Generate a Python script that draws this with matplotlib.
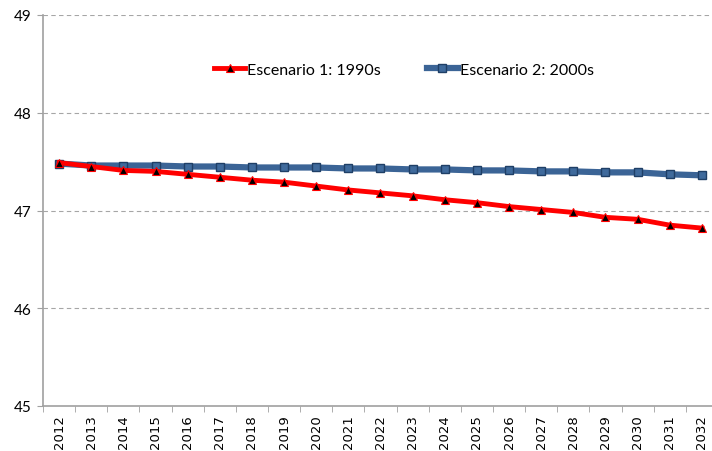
import numpy as np
import matplotlib.pyplot as plt
from matplotlib.ticker import FixedLocator

years = [str(y) for y in range(2012, 2033)]
esc1 = [47.49, 47.45, 47.41, 47.40, 47.37, 47.34, 47.31, 47.29, 47.25, 47.21, 47.18,
        47.15, 47.11, 47.08, 47.04, 47.01, 46.98, 46.93, 46.91, 46.85, 46.82]
esc2 = [47.48, 47.46, 47.46, 47.46, 47.45, 47.45, 47.44, 47.44, 47.44, 47.43, 47.43,
        47.42, 47.42, 47.41, 47.41, 47.40, 47.40, 47.39, 47.39, 47.37, 47.36]
labels = ['Escenario 1: 1990s', 'Escenario 2: 2000s']
yticks = [45, 46, 47, 48, 49]

fig = plt.figure(figsize=(7.12, 4.52), dpi=100)
# axes runs a little past the right edge, like the cropped original
ax = fig.add_axes([43/712, 1-407/452, 675/712, 391/452])

x = np.arange(len(years))
ax.plot(x, esc2, color='#3B6496', lw=4.5, marker='s', ms=6,
        mfc='#3F6A9C', mec='#1F3F66', mew=1.0, label=labels[1], zorder=3)
ax.plot(x, esc1, color='#FF0000', lw=3.5, marker='^', ms=6,
        mfc='black', mec='#FF0000', mew=0.8, label=labels[0], zorder=4)

ax.set_xlim(-0.5, len(years) - 0.5)
ax.set_ylim(45, 49)
ax.set_yticks(yticks)
ax.set_yticklabels([str(v) for v in yticks], fontsize=11, family='Lato')
ax.yaxis.grid(True, color='#A6A6A6', linestyle=(0, (4, 3)), lw=0.8)
ax.set_axisbelow(True)

ax.set_xticks(x)
ax.set_xticklabels(years, rotation=90, fontsize=9.5, family='DejaVu Sans')
ax.tick_params(axis='x', which='major', length=0, pad=6)
ax.xaxis.set_minor_locator(FixedLocator(np.arange(-0.5, len(years), 1.0)))
ax.tick_params(axis='x', which='minor', length=4, color='#A0A0A0')
ax.tick_params(axis='y', length=4, color='#A0A0A0', pad=4)

for s in ['top', 'right']:
    ax.spines[s].set_visible(False)
for s in ['left', 'bottom']:
    ax.spines[s].set_color('#A0A0A0')
    ax.spines[s].set_linewidth(1.2)

h, l = ax.get_legend_handles_labels()
ax.legend(h[::-1], l[::-1], loc='upper center', bbox_to_anchor=(0.535, 0.915), ncol=2,
          frameon=False, handlelength=1.9, handletextpad=0.15, columnspacing=2.9,
          prop={'family': 'Lato', 'size': 11.5})

fig.savefig('out.png', dpi=100)
